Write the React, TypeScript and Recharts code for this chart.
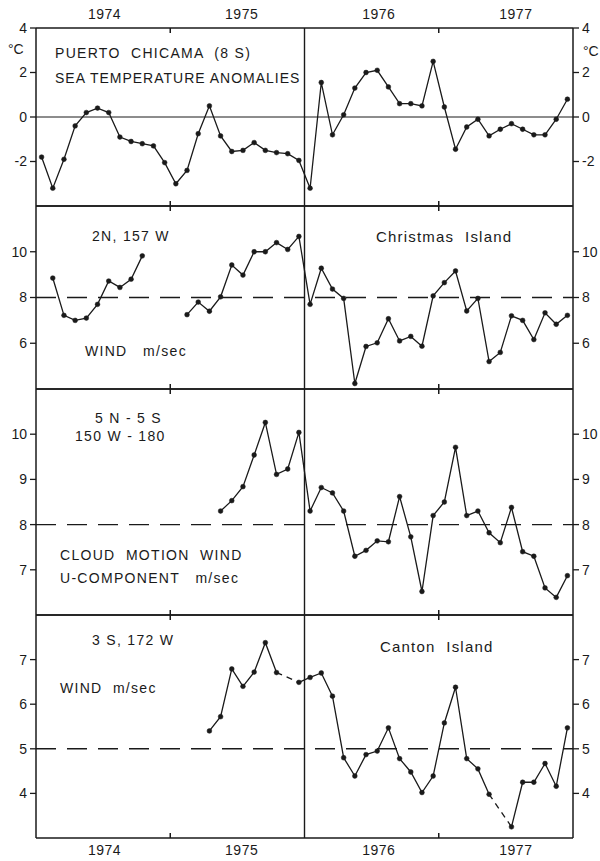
import React from "react"
import { LineChart, Line, XAxis, YAxis, ReferenceLine } from "recharts"

// monthly values, Jan 1974 .. Dec 1977 (48 months)
const seaTempAnomaly = [
  -1.8, -3.2, -1.9, -0.4, 0.2, 0.4, 0.2, -0.9, -1.1, -1.2, -1.3, -2.05,
  -3.0, -2.4, -0.75, 0.5, -0.85, -1.55, -1.5, -1.15, -1.5, -1.6, -1.65, -1.95,
  -3.2, 1.55, -0.8, 0.1, 1.3, 2.0, 2.1, 1.35, 0.6, 0.6, 0.5, 2.5,
  0.45, -1.45, -0.45, -0.1, -0.85, -0.55, -0.3, -0.55, -0.8, -0.8, -0.1, 0.8,
]
const christmasWind = [
  null, 8.85, 7.22, 7.0, 7.1, 7.7, 8.72, 8.44, 8.8, 9.82, null, null,
  null, 7.25, 7.8, 7.4, 8.03, 9.42, 8.98, 10.0, 10.0, 10.4, 10.1, 10.67,
  7.7, 9.28, 8.37, 7.96, 4.24, 5.86, 6.02, 7.07, 6.1, 6.3, 5.87, 8.07,
  8.65, 9.16, 7.41, 7.96, 5.2, 5.6, 7.2, 7.0, 6.16, 7.33, 6.83, 7.22,
]
const cloudWindU = [
  null, null, null, null, null, null, null, null, null, null, null, null,
  null, null, null, null, 8.3, 8.53, 8.84, 9.54, 10.26, 9.11, 9.23, 10.04,
  8.3, 8.82, 8.7, 8.3, 7.3, 7.43, 7.64, 7.62, 8.62, 7.73, 6.52, 8.2,
  8.5, 9.71, 8.2, 8.3, 7.82, 7.6, 8.38, 7.4, 7.3, 6.6, 6.39, 6.87,
]
const cantonWind = [
  null, null, null, null, null, null, null, null, null, null, null, null,
  null, null, null, 5.4, 5.72, 6.79, 6.4, 6.72, 7.38, 6.71, null, 6.49,
  6.6, 6.7, 6.18, 4.8, 4.39, 4.87, 4.95, 5.47, 4.78, 4.48, 4.02, 4.39,
  5.58, 6.38, 4.78, 4.55, 3.98, null, 3.25, 4.25, 4.25, 4.67, 4.16, 5.47,
]
// missing months bridged with a dashed line
const cantonDashedGaps = [22, 41]

const years = ["1974", "1975", "1976", "1977"]
const yearMids = [6, 18, 30, 42]
const yearTicks = [12, 36]

const data = seaTempAnomaly.map((v, i) => {
  const row: any = {
    x: i + 0.5,
    sst: v,
    christmas: christmasWind[i],
    cloud: cloudWindU[i],
    canton: cantonWind[i],
  }
  cantonDashedGaps.forEach((g, k) => {
    row["bridge" + k] = i === g - 1 || i === g + 1 ? cantonWind[i] : null
  })
  return row
})

const FONT = "'Liberation Sans', Arial, sans-serif"
const INK = "#1a1a1a"

type PanelProps = {
  plotTop: number
  plotBottom: number
  padTop: number
  padBottom: number
  domain: [number, number]
  ticks: number[]
  dataKey: string
  refY: number
  dashed: boolean
  topYears?: boolean
  bottomYears?: boolean
  bridges?: string[]
}

function Panel(p: PanelProps) {
  const plotH = p.plotBottom - p.plotTop
  const height = plotH + p.padTop + p.padBottom
  const frame = { stroke: INK, strokeWidth: 1.5 }
  const yearAxis = { fontSize: 14, fill: INK, fontFamily: FONT, letterSpacing: 0.5 }
  // year-boundary marks: only the two ends of a vertical line are inked
  const markLen = 5
  const mark = {
    xAxisId: "m",
    yAxisId: "l",
    stroke: INK,
    strokeWidth: 1.5,
    strokeDasharray: `${markLen} ${plotH - 2 * markLen} ${markLen}`,
  }
  return (
    <div style={{ position: "absolute", left: 0, top: p.plotTop - p.padTop }}>
      <LineChart
        width={600}
        height={height}
        data={data}
        margin={{ top: p.topYears ? 0 : p.padTop, bottom: p.bottomYears ? 0 : p.padBottom, left: 6, right: 0 }}
      >
        <XAxis xAxisId="m" dataKey="x" type="number" domain={[0, 48]} hide />
        {p.topYears && (
          <XAxis
            xAxisId="t"
            orientation="top"
            type="number"
            domain={[0, 48]}
            ticks={yearMids}
            tickFormatter={(v: number) => years[Math.floor(v / 12)]}
            height={p.padTop}
            tickSize={0}
            tickMargin={9}
            axisLine={false}
            tickLine={false}
            tick={yearAxis}
            interval={0}
          />
        )}
        {p.bottomYears && (
          <XAxis
            xAxisId="b"
            orientation="bottom"
            type="number"
            domain={[0, 48]}
            ticks={yearMids}
            tickFormatter={(v: number) => years[Math.floor(v / 12)]}
            height={p.padBottom}
            tickSize={0}
            tickMargin={7}
            axisLine={false}
            tickLine={false}
            tick={yearAxis}
            interval={0}
          />
        )}
        <YAxis
          yAxisId="l"
          orientation="left"
          width={30}
          domain={p.domain}
          ticks={p.ticks}
          interval={0}
          allowDataOverflow
          tickSize={6}
          tickMargin={3}
          axisLine={frame}
          tickLine={{ stroke: INK, strokeWidth: 1.3 }}
          tick={{ fontSize: 14, fill: INK, fontFamily: FONT }}
        />
        <YAxis
          yAxisId="r"
          orientation="right"
          width={27}
          domain={p.domain}
          ticks={p.ticks}
          interval={0}
          allowDataOverflow
          tickSize={6}
          tickMargin={3}
          axisLine={frame}
          tickLine={{ stroke: INK, strokeWidth: 1.3 }}
          tick={{ fontSize: 14, fill: INK, fontFamily: FONT, textAnchor: "start" }}
        />
        <ReferenceLine xAxisId="m" yAxisId="l" y={p.domain[1]} {...frame} />
        <ReferenceLine xAxisId="m" yAxisId="l" y={p.domain[0]} {...frame} />
        <ReferenceLine x={yearTicks[0]} {...mark} />
        <ReferenceLine x={yearTicks[1]} {...mark} />
        <ReferenceLine
          xAxisId="m"
          yAxisId="l"
          y={p.refY}
          stroke={INK}
          strokeWidth={p.dashed ? 1.4 : 1}
          strokeDasharray={p.dashed ? "20 11" : undefined}
        />
        <ReferenceLine xAxisId="m" yAxisId="l" x={24} stroke={INK} strokeWidth={1.4} />
        {(p.bridges || []).map((k) => (
          <Line
            key={k}
            xAxisId="m"
            yAxisId="l"
            dataKey={k}
            stroke={INK}
            strokeWidth={1.3}
            strokeDasharray="6 5"
            dot={false}
            activeDot={false}
            connectNulls
            isAnimationActive={false}
          />
        ))}
        <Line
          xAxisId="m"
          yAxisId="l"
          dataKey={p.dataKey}
          stroke={INK}
          strokeWidth={1.3}
          dot={{ r: 2.4, fill: INK, stroke: INK, strokeWidth: 0.5 }}
          activeDot={false}
          connectNulls={false}
          isAnimationActive={false}
        />
      </LineChart>
    </div>
  )
}

const note = (text: string, x: number, y: number, extra: React.CSSProperties = {}) => (
  <div
    style={{
      position: "absolute",
      left: x,
      top: y,
      fontFamily: FONT,
      fontSize: 14,
      color: INK,
      letterSpacing: 1.3,
      whiteSpace: "pre",
      lineHeight: "16px",
      ...extra,
    }}
  >
    {text}
  </div>
)

export default function App() {
  return (
    <div style={{ position: "absolute", left: 0, top: 0, width: 600, height: 861, background: "#fff", overflow: "hidden" }}>
      <Panel plotTop={28} plotBottom={206} padTop={28} padBottom={6} domain={[-4, 4]} ticks={[-2, 0, 2, 4]} dataKey="sst" refY={0} dashed={false} topYears />
      <Panel plotTop={206} plotBottom={389} padTop={6} padBottom={6} domain={[4, 12]} ticks={[6, 8, 10]} dataKey="christmas" refY={8} dashed />
      <Panel plotTop={389} plotBottom={615} padTop={6} padBottom={6} domain={[6, 11]} ticks={[7, 8, 9, 10]} dataKey="cloud" refY={8} dashed />
      <Panel
        plotTop={615}
        plotBottom={838}
        padTop={6}
        padBottom={23}
        domain={[3, 8]}
        ticks={[4, 5, 6, 7]}
        dataKey="canton"
        refY={5}
        dashed
        bottomYears
        bridges={cantonDashedGaps.map((_, k) => "bridge" + k)}
      />

      {note("°C", 8, 41, { letterSpacing: 0 })}
      {note("°C", 583, 43, { letterSpacing: 0 })}
      {note("PUERTO  CHICAMA  (8 S)", 55, 45)}
      {note("SEA TEMPERATURE ANOMALIES", 55, 70, { letterSpacing: 1.0 })}

      {note("2N, 157 W", 92, 228)}
      {note("Christmas  Island", 376, 229, { letterSpacing: 1.2, fontSize: 15 })}
      {note("WIND   m/sec", 85, 343)}

      {note("5 N - 5 S", 95, 410)}
      {note("150 W - 180", 75, 428)}
      {note("CLOUD  MOTION  WIND", 60, 547)}
      {note("U-COMPONENT   m/sec", 60, 570)}

      {note("3 S, 172 W", 92, 632)}
      {note("WIND  m/sec", 60, 680)}
      {note("Canton  Island", 380, 639, { letterSpacing: 1.2, fontSize: 15 })}
    </div>
  )
}
